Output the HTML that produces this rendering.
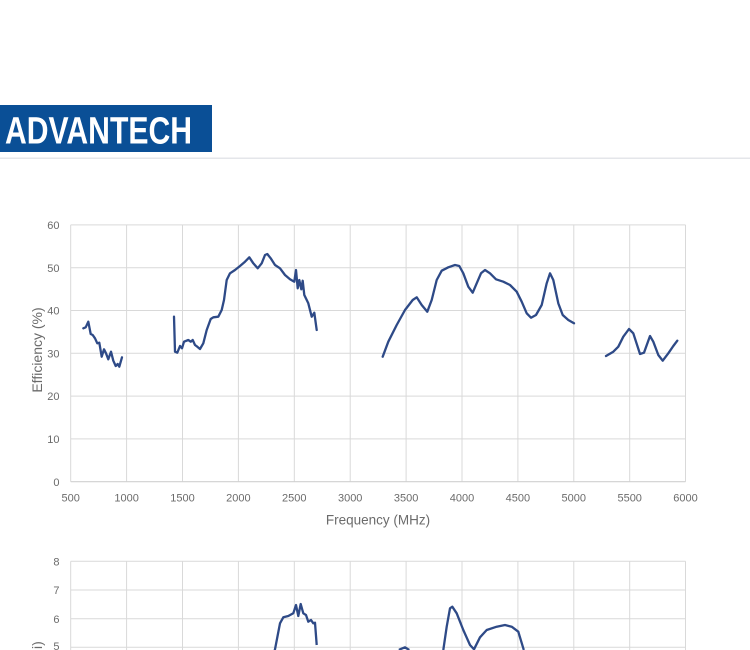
<!DOCTYPE html>
<html>
<head>
<meta charset="utf-8">
<style>
  html, body { margin: 0; padding: 0; background: #ffffff; }
  body { width: 750px; height: 650px; overflow: hidden; }
  svg { display: block; }
  text { font-family: "Liberation Sans", sans-serif; }
</style>
</head>
<body>
<svg width="750" height="650" viewBox="0 0 750 650" xmlns="http://www.w3.org/2000/svg">
  <defs>
    <clipPath id="frame"><rect x="0" y="0" width="750" height="650"/></clipPath>
  </defs>
  <g clip-path="url(#frame)">
  <!-- Logo -->
  <rect x="0" y="105" width="212" height="47" fill="#0a4f96"/>
  <text x="5" y="143.5" font-size="38" font-weight="bold" fill="#ffffff" textLength="187" lengthAdjust="spacingAndGlyphs">ADVANTECH</text>
  <rect x="0" y="157.5" width="750" height="1.5" fill="#e4e6ea"/>

  <!-- ===== Top chart ===== -->
  <g stroke="#d9d9d9" stroke-width="1" fill="none">
    <line x1="70.7" y1="224.9" x2="685.5" y2="224.9"/>
    <line x1="70.7" y1="267.7" x2="685.5" y2="267.7"/>
    <line x1="70.7" y1="310.5" x2="685.5" y2="310.5"/>
    <line x1="70.7" y1="353.3" x2="685.5" y2="353.3"/>
    <line x1="70.7" y1="396.1" x2="685.5" y2="396.1"/>
    <line x1="70.7" y1="438.9" x2="685.5" y2="438.9"/>
    <line x1="70.7" y1="224.9" x2="70.7" y2="481.7"/>
    <line x1="126.6" y1="224.9" x2="126.6" y2="481.7"/>
    <line x1="182.5" y1="224.9" x2="182.5" y2="481.7"/>
    <line x1="238.4" y1="224.9" x2="238.4" y2="481.7"/>
    <line x1="294.3" y1="224.9" x2="294.3" y2="481.7"/>
    <line x1="350.2" y1="224.9" x2="350.2" y2="481.7"/>
    <line x1="406.1" y1="224.9" x2="406.1" y2="481.7"/>
    <line x1="462.0" y1="224.9" x2="462.0" y2="481.7"/>
    <line x1="517.9" y1="224.9" x2="517.9" y2="481.7"/>
    <line x1="573.8" y1="224.9" x2="573.8" y2="481.7"/>
    <line x1="629.7" y1="224.9" x2="629.7" y2="481.7"/>
    <line x1="685.5" y1="224.9" x2="685.5" y2="481.7"/>
  </g>
  <line x1="70.7" y1="481.7" x2="685.5" y2="481.7" stroke="#d0d0d0" stroke-width="1.2"/>

  <g font-size="11" fill="#6b6b6b" text-anchor="end">
    <text x="59.5" y="229">60</text>
    <text x="59.5" y="271.8">50</text>
    <text x="59.5" y="314.6">40</text>
    <text x="59.5" y="357.4">30</text>
    <text x="59.5" y="400.2">20</text>
    <text x="59.5" y="443">10</text>
    <text x="59.5" y="485.8">0</text>
  </g>
  <g font-size="11" fill="#6b6b6b" text-anchor="middle">
    <text x="70.7" y="501.5">500</text>
    <text x="126.6" y="501.5">1000</text>
    <text x="182.5" y="501.5">1500</text>
    <text x="238.4" y="501.5">2000</text>
    <text x="294.3" y="501.5">2500</text>
    <text x="350.2" y="501.5">3000</text>
    <text x="406.1" y="501.5">3500</text>
    <text x="462.0" y="501.5">4000</text>
    <text x="517.9" y="501.5">4500</text>
    <text x="573.8" y="501.5">5000</text>
    <text x="629.7" y="501.5">5500</text>
    <text x="685.5" y="501.5">6000</text>
  </g>
  <text x="378" y="524.5" font-size="13.5" fill="#6b6b6b" text-anchor="middle">Frequency (MHz)</text>
  <text transform="translate(42,350) rotate(-90)" font-size="14" fill="#6b6b6b" text-anchor="middle">Efficiency (%)</text>

  <g stroke="#2e4a87" stroke-width="2.3" fill="none" stroke-linejoin="round" stroke-linecap="round">
    <polyline points="83.3,328.3 85.7,327.3 88.3,321.7 90.7,334 92.7,335 95,338.3 97.3,343.3 99.3,342.7 101.7,356.7 104,349.3 106,353.3 108.3,359.3 111,351.7 113.3,360.7 115.7,366 117.7,364 119.3,366.7 122,357.3"/>
    <polyline points="174,316.7 175,351.7 177.3,352.7 180,346 182,348.3 184,341.7 188.3,340 190.7,341.7 192.7,340 195,345 197.3,346.7 200,349 203.3,343.3 206.7,330 210.7,319 213.3,317.3 218.3,316.7 221.7,310 224,300 226.7,280 230,273.3 235,270 240,266 245,261.7 249.3,257.3 253.3,263.3 257.7,268.3 261.7,263.3 265,255 267.3,254 270.7,258.3 275,265 280,268.3 285,275 290,279.3 294.3,281.7 296,270 297.7,288.3 299.3,280 301.3,289.3 302.7,280.7 304.3,295 308.3,303.3 311.7,316.7 314.3,312.7 316.7,330"/>
    <polyline points="382.7,356.7 388.3,341.7 396.7,325 405,310 412.7,300 416.7,297.3 421.7,305 427.3,311.7 431.7,300 436.7,280 441.7,270.7 448.3,267.3 455,265 459.3,266 463.3,273.3 468.3,286.7 472.7,292.7 476.7,283.3 481,273.3 485,270 490,273.3 496,279.3 503.3,281.7 510,285 516.7,291.7 521.7,301.7 526.7,313.3 531,317.7 536,315 541.7,305 546.7,283.3 550,273.3 553.3,280 558.3,303.3 562.7,315 568.3,320 574,323.3"/>
    <polyline points="606,356 613.3,351.7 618.3,346.7 623.3,336.7 629,329 633.3,333.3 640,354 644,352.7 650,336 653.3,341.7 658.3,355 662.7,360.7 668.3,353.3 673.3,346 677.3,340.7"/>
  </g>

  <!-- ===== Bottom chart ===== -->
  <g stroke="#d9d9d9" stroke-width="1" fill="none">
    <line x1="70.7" y1="561.3" x2="685.5" y2="561.3"/>
    <line x1="70.7" y1="590" x2="685.5" y2="590"/>
    <line x1="70.7" y1="618.7" x2="685.5" y2="618.7"/>
    <line x1="70.7" y1="647.3" x2="685.5" y2="647.3"/>
    <line x1="70.7" y1="561.3" x2="70.7" y2="650"/>
    <line x1="126.6" y1="561.3" x2="126.6" y2="650"/>
    <line x1="182.5" y1="561.3" x2="182.5" y2="650"/>
    <line x1="238.4" y1="561.3" x2="238.4" y2="650"/>
    <line x1="294.3" y1="561.3" x2="294.3" y2="650"/>
    <line x1="350.2" y1="561.3" x2="350.2" y2="650"/>
    <line x1="406.1" y1="561.3" x2="406.1" y2="650"/>
    <line x1="462.0" y1="561.3" x2="462.0" y2="650"/>
    <line x1="517.9" y1="561.3" x2="517.9" y2="650"/>
    <line x1="573.8" y1="561.3" x2="573.8" y2="650"/>
    <line x1="629.7" y1="561.3" x2="629.7" y2="650"/>
    <line x1="685.5" y1="561.3" x2="685.5" y2="650"/>
  </g>
  <g font-size="11" fill="#6b6b6b" text-anchor="end">
    <text x="59.5" y="565.4">8</text>
    <text x="59.5" y="594.1">7</text>
    <text x="59.5" y="622.8">6</text>
    <text x="59.5" y="650">5</text>
  </g>
  <text transform="translate(42,649) rotate(-90)" font-size="14" fill="#6b6b6b" text-anchor="start" x="0">i)</text>

  <g stroke="#2e4a87" stroke-width="2.3" fill="none" stroke-linejoin="round" stroke-linecap="butt">
    <polyline points="274.2,650 275,649.3 280,623.3 283.3,617.3 288.3,616 293.3,613.3 296,605 298.3,616 300.7,604 303.3,613.3 306,615 308.3,621.7 311,620 313.3,623.3 315,622.7 316.7,645"/>
    <polyline points="399,650 400,649.3 405,647.3 409.3,650"/>
    <polyline points="443.2,650 443.3,650 446.7,626.7 450,608.3 452.3,606.7 456.7,613.3 463.3,630 470,645 474,649.3 480,637.3 486.7,630 496.7,626.7 505,625 511.7,626.7 518.3,631.7 523.3,648.3 523.8,650"/>
  </g>
  </g>
</svg>
</body>
</html>
